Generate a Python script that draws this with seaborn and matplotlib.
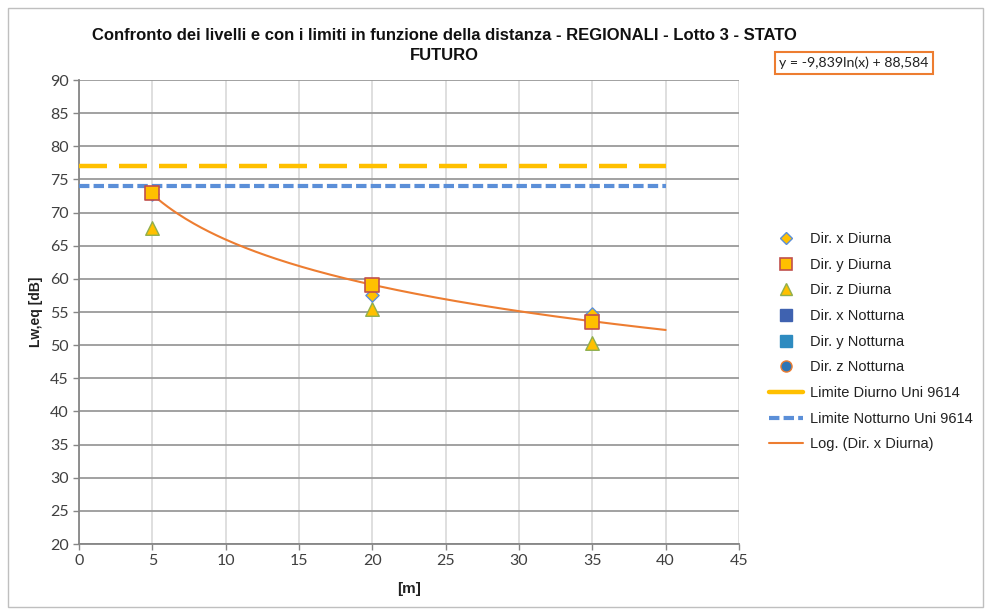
import numpy as np
import pandas as pd
import matplotlib
matplotlib.use("Agg")
import matplotlib.pyplot as plt
from matplotlib.lines import Line2D
from matplotlib.patches import Rectangle
import seaborn as sns

# ---- data ----
dist = [5, 20, 35]
dir_x_diurna = [72.8, 57.5, 54.7]
dir_y_diurna = [73.0, 59.0, 53.5]
dir_z_diurna = [67.6, 55.4, 50.3]
dir_x_notturna = []
dir_y_notturna = []
dir_z_notturna = []
limit_x = [0, 40]
limite_diurno = [77, 77]
limite_notturno = [74, 74]
log_a = -9.839
log_b = 88.584
log_range = [5, 40]
x_ticks = list(range(0, 50, 5))
y_ticks = list(range(20, 95, 5))

sns.set_theme(style="white")
plt.rcParams['font.family'] = ['Liberation Sans', 'DejaVu Sans']

fig = plt.figure(figsize=(9.85, 6.10), dpi=100)
ax = fig.add_axes([79/985, 1-544/610, (739-79)/985, (544-80)/610])

# limits
sns.lineplot(x=limit_x, y=limite_diurno, ax=ax, color="#FFC000", lw=3.2, zorder=3)
ax.lines[-1].set_dashes([6.3, 2.7])
ax.lines[-1].set_dash_capstyle('butt')
sns.lineplot(x=limit_x, y=limite_notturno, ax=ax, color="#5B8FD8", lw=3.0, zorder=3)
ax.lines[-1].set_dashes([2.5, 1.0])

# trendline
xs = np.linspace(log_range[0], log_range[1], 200)
ys = log_a * np.log(xs) + log_b
sns.lineplot(x=xs, y=ys, ax=ax, color="#ED7D31", lw=1.5, zorder=4)

# points
sns.scatterplot(x=dist, y=dir_z_diurna, ax=ax, marker="^", s=95,
                color="#FFC000", edgecolor="#8FAF4F", linewidth=1.0, zorder=5)
sns.scatterplot(x=dist, y=dir_x_diurna, ax=ax, marker="D", s=45,
                color="#FFC000", edgecolor="#5B8FD8", linewidth=1.0, zorder=5)
sns.scatterplot(x=dist, y=dir_y_diurna, ax=ax, marker="s", s=110,
                color="#FFC000", edgecolor="#C0504D", linewidth=1.2, zorder=6)

ax.set_xlim(0, 45)
ax.set_ylim(20, 90)
ax.set_xticks(x_ticks)
ax.set_yticks(y_ticks)
ax.tick_params(axis='both', labelsize=11.5, length=4, width=1,
               direction='out', bottom=True, left=True,
               colors="#868686", labelcolor="#404040")
for lab in ax.get_xticklabels() + ax.get_yticklabels():
    lab.set_fontfamily(['Lato', 'DejaVu Sans'])

ax.grid(axis='y', color="#9A9A9A", lw=1.3)
ax.grid(axis='x', color="#D9D9D9", lw=1.2)
ax.set_axisbelow(True)
for s in ['top', 'right']:
    ax.spines[s].set_visible(False)
for s in ['left', 'bottom']:
    ax.spines[s].set_color("#868686")
    ax.spines[s].set_linewidth(1.3)

ax.set_xlabel("[m]", fontsize=11, fontweight='bold', labelpad=10, color="#222222")
ax.set_ylabel("Lw,eq [dB]", fontsize=10, fontweight='bold', labelpad=5, color="#222222")

fig.text(444/985, 1-35/610, "Confronto dei livelli e con i limiti in funzione della distanza - REGIONALI - Lotto 3 - STATO",
         ha='center', va='center', fontsize=12, fontweight='bold', color="#111111")
fig.text(444/985, 1-55/610, "FUTURO", ha='center', va='center', fontsize=12,
         fontweight='bold', color="#111111")

# equation box
fig.text(854/985, 1-63/610, "y = -9,839ln(x) + 88,584", ha='center', va='center',
         fontsize=10.2, color="#222222", family=['Lato', 'DejaVu Sans'],
         bbox=dict(boxstyle='square,pad=0.3', fc='white', ec="#ED7D31", lw=1.5))

# legend
handles = [
    Line2D([], [], ls='none', marker='D', ms=6, mfc="#FFC000", mec="#5B8FD8", mew=1.0),
    Line2D([], [], ls='none', marker='s', ms=8, mfc="#FFC000", mec="#C0504D", mew=1.2),
    Line2D([], [], ls='none', marker='^', ms=8, mfc="#FFC000", mec="#8FAF4F", mew=1.0),
    Line2D([], [], ls='none', marker='s', ms=8, mfc="#3F62B0", mec="#3F62B0"),
    Line2D([], [], ls='none', marker='s', ms=8, mfc="#2E8BC0", mec="#2E8BC0"),
    Line2D([], [], ls='none', marker='o', ms=8, mfc="#2E75B6", mec="#ED7D31", mew=1.0),
    Line2D([], [], color="#FFC000", lw=3.2),
    Line2D([], [], color="#5B8FD8", lw=3.0, dashes=[2.5, 1.0]),
    Line2D([], [], color="#ED7D31", lw=1.5),
]
labels = ["Dir. x Diurna", "Dir. y Diurna", "Dir. z Diurna", "Dir. x Notturna",
          "Dir. y Notturna", "Dir. z Notturna", "Limite Diurno Uni 9614",
          "Limite Notturno Uni 9614", "Log. (Dir. x Diurna)"]
fig.legend(handles, labels, loc='upper left', bbox_to_anchor=(756/985, 1-219/610),
           frameon=False, fontsize=10.5, handlelength=2.3, handletextpad=0.5,
           labelspacing=0.8, labelcolor="#222222")

# outer border
fig.patches.append(Rectangle((8/985, 3/610), 975/985, 599/610, transform=fig.transFigure,
                             fill=False, ec="#BFBFBF", lw=1.0))

fig.savefig("out.png", dpi=100, facecolor='white')
